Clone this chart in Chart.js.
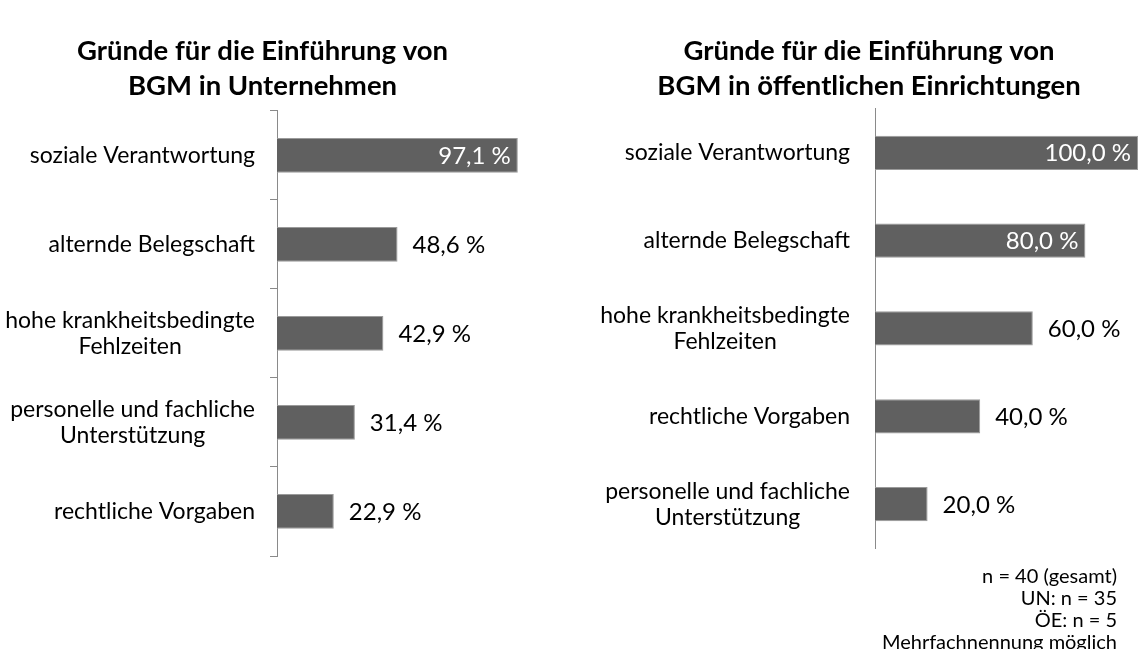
<!DOCTYPE html>
<html>
<head>
<meta charset="utf-8">
<script src="https://cdn.jsdelivr.net/npm/chart.js@4"></script>
<style>
  body { margin: 0; overflow: hidden; background: #fff; }
  .box { position: absolute; top: 0; height: 649px; }
</style>
</head>
<body>
<div class="box" style="left:0;width:550px"><canvas id="chartUN"></canvas></div>
<div class="box" style="left:600px;width:552px"><canvas id="chartOE"></canvas></div>
<script>
// Unternehmen
const titleUN = ["Gründe für die Einführung von", "BGM in Unternehmen"];
const catsUN = [
  ["soziale Verantwortung"],
  ["alternde Belegschaft"],
  ["hohe krankheitsbedingte", "Fehlzeiten"],
  ["personelle und fachliche", "Unterstützung"],
  ["rechtliche Vorgaben"],
];
const valsUN = [97.1, 48.6, 42.9, 31.4, 22.9];

// öffentliche Einrichtungen
const titleOE = ["Gründe für die Einführung von", "BGM in öffentlichen Einrichtungen"];
const catsOE = [
  ["soziale Verantwortung"],
  ["alternde Belegschaft"],
  ["hohe krankheitsbedingte", "Fehlzeiten"],
  ["rechtliche Vorgaben"],
  ["personelle und fachliche", "Unterstützung"],
];
const valsOE = [100.0, 80.0, 60.0, 40.0, 20.0];

const footnote = ["n = 40 (gesamt)", "UN: n = 35", "ÖE: n = 5", "Mehrfachnennung möglich"];

const FONT = "Lato";
const barColor = "#606060";
const axisColor = "#8a8a8a";

// Werte an die Balken schreiben (groß: weiß innen, sonst schwarz daneben)
const valueLabels = {
  id: "valueLabels",
  afterDatasetsDraw(chart) {
    const ctx = chart.ctx;
    const ds = chart.data.datasets[0];
    ctx.save();
    ctx.font = "24px " + FONT;
    ctx.textBaseline = "middle";
    chart.getDatasetMeta(0).data.forEach((bar, i) => {
      const v = ds.data[i];
      const txt = v.toFixed(1).replace(".", ",") + " %";
      if (v >= 70) {
        ctx.fillStyle = "#ffffff";
        ctx.textAlign = "right";
        ctx.fillText(txt, bar.x - 7, bar.y + 1);
      } else {
        ctx.fillStyle = "#000000";
        ctx.textAlign = "left";
        ctx.fillText(txt, bar.x + 15, bar.y + 1);
      }
    });
    ctx.restore();
  },
};

// Kategorien: einzeilig rechtsbündig, mehrzeilige Blöcke zentriert
const catLabels = {
  id: "catLabels",
  afterDraw(chart, args, opts) {
    const ctx = chart.ctx;
    const y = chart.scales.y;
    ctx.save();
    ctx.font = "23px " + FONT;
    ctx.fillStyle = "#000";
    ctx.textAlign = "center";
    ctx.textBaseline = "middle";
    chart.data.labels.forEach((lines, i) => {
      const cy = y.getPixelForTick(i);
      const maxW = Math.max(...lines.map(l => ctx.measureText(l).width));
      const cx = y.right - opts.gap - maxW / 2;
      const lh = 26;
      lines.forEach((l, k) => {
        ctx.fillText(l, cx, cy + (k - (lines.length - 1) / 2) * lh);
      });
    });
    ctx.restore();
  },
};

const footnotePlugin = {
  id: "footnote",
  afterDraw(chart, args, opts) {
    if (!opts.lines) return;
    const ctx = chart.ctx;
    ctx.save();
    ctx.font = "20px " + FONT;
    ctx.fillStyle = "#000";
    ctx.textAlign = "right";
    ctx.textBaseline = "middle";
    opts.lines.forEach((l, k) => ctx.fillText(l, opts.x, opts.y + k * 22));
    ctx.restore();
  },
};

function makeChart(id, title, cats, vals, cfg) {
  return new Chart(document.getElementById(id), {
    type: "bar",
    data: {
      labels: cats,
      datasets: [{
        data: vals,
        backgroundColor: barColor,
        borderColor: "#9a9a9a",
        borderWidth: 1,
        categoryPercentage: 1,
        barPercentage: 0.39,
      }],
    },
    options: {
      indexAxis: "y",
      responsive: true,
      maintainAspectRatio: false,
      animation: false,
      layout: { padding: { top: 0, right: cfg.padRight, bottom: cfg.padBottom, left: 0 } },
      scales: {
        x: { display: false, min: 0, max: 100 },
        y: {
          afterFit(scale) { scale.width = cfg.axisWidth; },
          ticks: { display: false },
          grid: {
            display: cfg.ticks,
            drawOnChartArea: false,
            drawTicks: true,
            tickLength: 7,
            offset: true,
            color: axisColor,
          },
          border: { display: true, color: axisColor, width: 1 },
        },
      },
      plugins: {
        legend: { display: false },
        tooltip: { enabled: false },
        title: {
          display: true,
          text: title,
          color: "#000",
          font: { family: FONT, size: 27.5, weight: "bold", lineHeight: 1.27 },
          padding: { top: 34, bottom: cfg.titleBottom },
        },
        catLabels: { gap: cfg.gap },
        footnote: cfg.footnote || {},
      },
    },
    plugins: [valueLabels, catLabels, footnotePlugin],
  });
}

makeChart("chartUN", titleUN, catsUN, valsUN,
  { axisWidth: 277, padRight: 25, padBottom: 93, titleBottom: 7, ticks: true, gap: 22 });
makeChart("chartOE", titleOE, catsOE, valsOE,
  { axisWidth: 275, padRight: 14, padBottom: 101, titleBottom: 5, ticks: false, gap: 25,
    footnote: { lines: footnote, x: 517, y: 577 } });
</script>
</body>
</html>
